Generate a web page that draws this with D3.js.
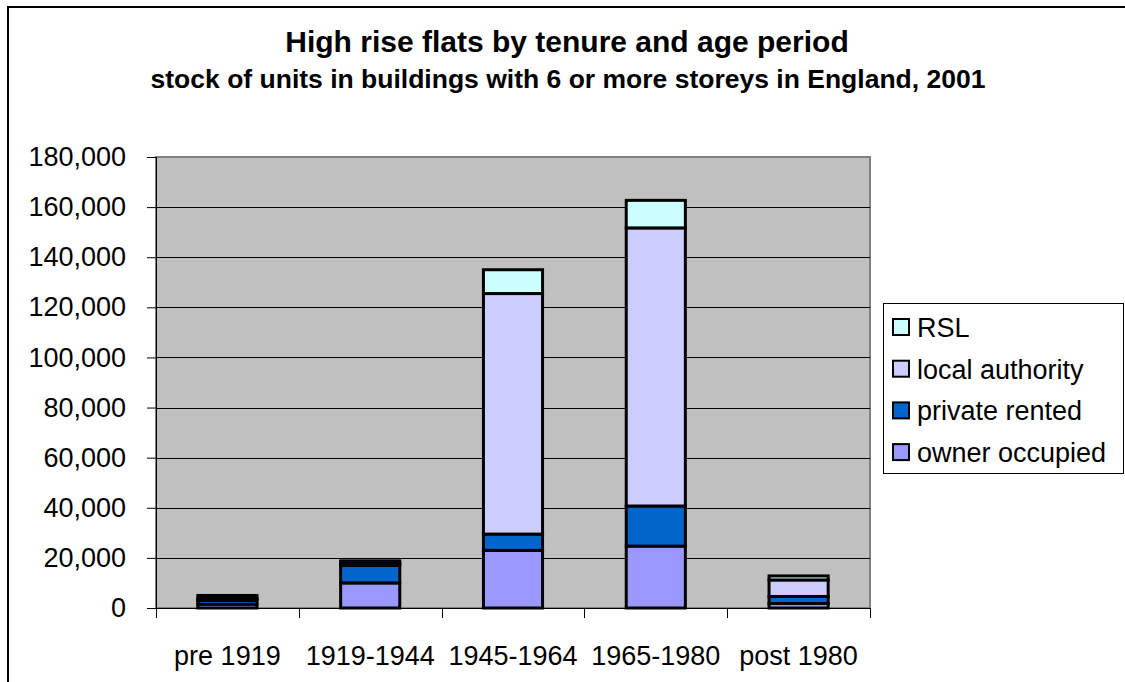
<!DOCTYPE html>
<html>
<head>
<meta charset="utf-8">
<script src="https://cdnjs.cloudflare.com/ajax/libs/d3/7.8.5/d3.min.js"></script>
<style>
  body { margin: 0; background: #fff; }
  svg { display: block; font-family: Arial, "Liberation Sans", sans-serif; }
</style>
</head>
<body>
<svg id="chart" width="1125" height="682"></svg>
<script>
// age periods along the x axis
var periods = ['pre 1919', '1919-1944', '1945-1964', '1965-1980', 'post 1980'];

// stacked series, bottom to top
var ownerOccupied  = [1500, 10000, 23000, 24700, 1800];
var privateRented  = [1500, 7000, 6500, 16000, 2800];
var localAuthority = [800, 1000, 96000, 111000, 6600];
var rsl            = [1200, 800, 9500, 11000, 1600];

var seriesNames = ['owner occupied', 'private rented', 'local authority', 'RSL'];
var yTicks = [0, 20000, 40000, 60000, 80000, 100000, 120000, 140000, 160000, 180000];

var colors = {
  'owner occupied': '#9999ff',
  'private rented': '#0066cc',
  'local authority': '#ccccff',
  'RSL': '#ccffff'
};

var rows = periods.map(function(p, i) {
  return {
    period: p,
    'owner occupied': ownerOccupied[i],
    'private rented': privateRented[i],
    'local authority': localAuthority[i],
    'RSL': rsl[i]
  };
});

var svg = d3.select('#chart');

// outer chart frame (runs off the right and bottom of the picture)
svg.append('rect')
  .attr('x', 8).attr('y', 7)
  .attr('width', 1130).attr('height', 690)
  .attr('fill', 'none').attr('stroke', '#000').attr('stroke-width', 2);

var plot = { left: 156, top: 157, right: 870, bottom: 608 };

var x = d3.scaleBand()
  .domain(periods)
  .range([plot.left, plot.right])
  .paddingInner(0.586)
  .paddingOuter(0.293);

var xOuter = d3.scaleBand().domain(periods).range([plot.left, plot.right]);

var y = d3.scaleLinear()
  .domain([0, 180000])
  .range([plot.bottom, plot.top]);

// plot area
svg.append('rect')
  .attr('x', plot.left).attr('y', plot.top)
  .attr('width', plot.right - plot.left).attr('height', plot.bottom - plot.top)
  .attr('fill', '#c0c0c0').attr('stroke', '#808080').attr('stroke-width', 2);

// gridlines
svg.append('g')
  .selectAll('line')
  .data(yTicks.filter(function(d) { return d > 0 && d < 180000; }))
  .enter().append('line')
  .attr('x1', plot.left).attr('x2', plot.right)
  .attr('y1', function(d) { return Math.round(y(d)) + 0.5; })
  .attr('y2', function(d) { return Math.round(y(d)) + 0.5; })
  .attr('stroke', '#000').attr('stroke-width', 1);

// stacked bars
var stack = d3.stack().keys(seriesNames);
var layers = stack(rows);

svg.append('g')
  .selectAll('g')
  .data(layers)
  .enter().append('g')
  .attr('fill', function(d) { return colors[d.key]; })
  .selectAll('rect')
  .data(function(d) { return d; })
  .enter().append('rect')
  .attr('x', function(d) { return x(d.data.period); })
  .attr('width', x.bandwidth())
  .attr('y', function(d) { return y(d[1]); })
  .attr('height', function(d) { return y(d[0]) - y(d[1]); })
  .attr('stroke', '#000').attr('stroke-width', 3);

// y axis
var yAxis = svg.append('g')
  .attr('transform', 'translate(' + plot.left + ',0)')
  .call(d3.axisLeft(y).tickValues(yTicks).tickSize(9).tickPadding(21)
    .tickFormat(d3.format(',')));
yAxis.select('.domain').attr('stroke', '#000');
yAxis.selectAll('.tick line').attr('stroke', '#000');
yAxis.selectAll('text').attr('font-size', 27).attr('fill', '#000')
  .attr('font-family', 'Arial, "Liberation Sans", sans-serif');

// x axis, ticks between categories
var xAxisG = svg.append('g');
xAxisG.append('line')
  .attr('x1', plot.left).attr('x2', plot.right)
  .attr('y1', plot.bottom + 0.5).attr('y2', plot.bottom + 0.5)
  .attr('stroke', '#000');
var bounds = periods.map(function(p) { return xOuter(p); }).concat([plot.right]);
xAxisG.selectAll('.xtick')
  .data(bounds)
  .enter().append('line')
  .attr('x1', function(d) { return Math.round(d) + 0.5; })
  .attr('x2', function(d) { return Math.round(d) + 0.5; })
  .attr('y1', plot.bottom).attr('y2', plot.bottom + 10)
  .attr('stroke', '#000');
xAxisG.selectAll('text')
  .data(periods)
  .enter().append('text')
  .attr('x', function(d) { return xOuter(d) + xOuter.bandwidth() / 2; })
  .attr('y', 665)
  .attr('text-anchor', 'middle')
  .attr('font-size', 27)
  .text(function(d) { return d; });

// titles
svg.append('text')
  .attr('x', 567).attr('y', 52)
  .attr('text-anchor', 'middle')
  .attr('font-size', 30).attr('font-weight', 'bold')
  .text('High rise flats by tenure and age period');
svg.append('text')
  .attr('x', 568).attr('y', 88)
  .attr('text-anchor', 'middle')
  .attr('font-size', 26.5).attr('font-weight', 'bold')
  .text('stock of units in buildings with 6 or more storeys in England, 2001');

// legend, top entry is the top of the stack
var legend = svg.append('g');
legend.append('rect')
  .attr('x', 883.5).attr('y', 303.5)
  .attr('width', 240).attr('height', 170)
  .attr('fill', '#fff').attr('stroke', '#000');

var items = legend.selectAll('.item')
  .data(seriesNames.slice().reverse())
  .enter().append('g')
  .attr('transform', function(d, i) { return 'translate(893,' + (327 + i * 41.7) + ')'; });
items.append('rect')
  .attr('x', 0).attr('y', -8)
  .attr('width', 16).attr('height', 16)
  .attr('fill', function(d) { return colors[d]; })
  .attr('stroke', '#000').attr('stroke-width', 2);
items.append('text')
  .attr('x', 24).attr('y', 10)
  .attr('font-size', 27)
  .text(function(d) { return d; });
</script>
</body>
</html>
